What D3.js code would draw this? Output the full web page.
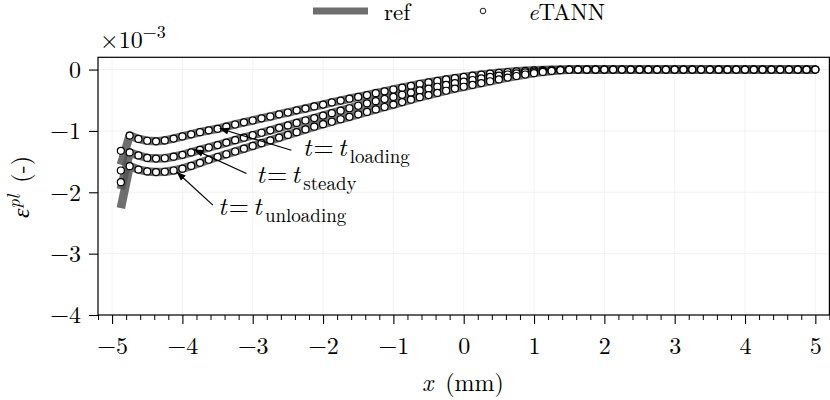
<!DOCTYPE html>
<html><head><meta charset="utf-8">
<script src="https://cdn.jsdelivr.net/npm/d3@7"></script>
<style>
body{margin:0;background:#fff}
svg{display:block}
text{font-family:"Latin Modern Roman","CMU Serif","Liberation Serif","Times New Roman",serif;fill:#000}
</style>
</head><body>
<svg id="c" width="830" height="400"></svg>
<script>
// ---- data (values in units of 1e-3) ----
const xs = [-4.875,-4.75,-4.625,-4.5,-4.375,-4.25,-4.125,-4,-3.875,-3.75,-3.625,-3.5,-3.375,-3.25,-3.125,-3,-2.875,-2.75,-2.625,-2.5,-2.375,-2.25,-2.125,-2,-1.875,-1.75,-1.625,-1.5,-1.375,-1.25,-1.125,-1,-0.875,-0.75,-0.625,-0.5,-0.375,-0.25,-0.125,0,0.125,0.25,0.375,0.5,0.625,0.75,0.875,1,1.125,1.25,1.375,1.5,1.625,1.75,1.875,2,2.125,2.25,2.375,2.5,2.625,2.75,2.875,3,3.125,3.25,3.375,3.5,3.625,3.75,3.875,4,4.125,4.25,4.375,4.5,4.625,4.75,4.875,5];

const etannLoading = [-1.325,-1.075,-1.13,-1.16,-1.17,-1.155,-1.125,-1.09,-1.055,-1.02,-0.99,-0.965,-0.93,-0.895,-0.86,-0.83,-0.795,-0.765,-0.73,-0.70,-0.665,-0.635,-0.60,-0.57,-0.535,-0.505,-0.475,-0.445,-0.415,-0.385,-0.355,-0.325,-0.295,-0.265,-0.235,-0.21,-0.185,-0.16,-0.14,-0.12,-0.10,-0.083,-0.067,-0.053,-0.04,-0.029,-0.02,-0.013,-0.007,-0.003,-0.001,0,0,0,0,0,0,0,0,0,0,0,0,0,0,0,0,0,0,0,0,0,0,0,0,0,0,0,0,0];
const etannSteady = [-1.645,-1.35,-1.40,-1.44,-1.45,-1.445,-1.42,-1.39,-1.35,-1.31,-1.27,-1.23,-1.19,-1.15,-1.11,-1.07,-1.03,-0.99,-0.95,-0.91,-0.87,-0.83,-0.79,-0.75,-0.71,-0.67,-0.63,-0.59,-0.55,-0.515,-0.48,-0.445,-0.41,-0.375,-0.34,-0.31,-0.28,-0.25,-0.22,-0.195,-0.17,-0.145,-0.12,-0.10,-0.08,-0.062,-0.046,-0.032,-0.02,-0.011,-0.005,-0.001,0,0,0,0,0,0,0,0,0,0,0,0,0,0,0,0,0,0,0,0,0,0,0,0,0,0,0,0];
const etannUnloading = [-1.835,-1.575,-1.63,-1.66,-1.67,-1.665,-1.645,-1.615,-1.57,-1.52,-1.47,-1.425,-1.38,-1.335,-1.29,-1.245,-1.20,-1.155,-1.11,-1.065,-1.02,-0.975,-0.93,-0.89,-0.85,-0.81,-0.77,-0.73,-0.69,-0.65,-0.61,-0.57,-0.53,-0.49,-0.45,-0.415,-0.38,-0.345,-0.31,-0.28,-0.25,-0.22,-0.19,-0.16,-0.13,-0.105,-0.08,-0.058,-0.038,-0.022,-0.01,-0.003,0,0,0,0,0,0,0,0,0,0,0,0,0,0,0,0,0,0,0,0,0,0,0,0,0,0,0,0];

const refLoading = [-1.55,-1.075,-1.13,-1.16,-1.17,-1.155,-1.125,-1.09,-1.055,-1.02,-0.99,-0.965,-0.93,-0.895,-0.86,-0.83,-0.795,-0.765,-0.73,-0.70,-0.665,-0.635,-0.60,-0.57,-0.535,-0.505,-0.475,-0.445,-0.415,-0.385,-0.355,-0.325,-0.295,-0.265,-0.235,-0.21,-0.185,-0.16,-0.14,-0.12,-0.10,-0.083,-0.067,-0.053,-0.04,-0.029,-0.02,-0.013,-0.007,-0.003,-0.001,0,0,0,0,0,0,0,0,0,0,0,0,0,0,0,0,0,0,0,0,0,0,0,0,0,0,0,0,0];
const refSteady = [-1.95,-1.35,-1.40,-1.44,-1.45,-1.445,-1.42,-1.39,-1.35,-1.31,-1.27,-1.23,-1.19,-1.15,-1.11,-1.07,-1.03,-0.99,-0.95,-0.91,-0.87,-0.83,-0.79,-0.75,-0.71,-0.67,-0.63,-0.59,-0.55,-0.515,-0.48,-0.445,-0.41,-0.375,-0.34,-0.31,-0.28,-0.25,-0.22,-0.195,-0.17,-0.145,-0.12,-0.10,-0.08,-0.062,-0.046,-0.032,-0.02,-0.011,-0.005,-0.001,0,0,0,0,0,0,0,0,0,0,0,0,0,0,0,0,0,0,0,0,0,0,0,0,0,0,0,0];
const refUnloading = [-2.26,-1.575,-1.63,-1.66,-1.67,-1.665,-1.645,-1.615,-1.57,-1.52,-1.47,-1.425,-1.38,-1.335,-1.29,-1.245,-1.20,-1.155,-1.11,-1.065,-1.02,-0.975,-0.93,-0.89,-0.85,-0.81,-0.77,-0.73,-0.69,-0.65,-0.61,-0.57,-0.53,-0.49,-0.45,-0.415,-0.38,-0.345,-0.31,-0.28,-0.25,-0.22,-0.19,-0.16,-0.13,-0.105,-0.08,-0.058,-0.038,-0.022,-0.01,-0.003,0,0,0,0,0,0,0,0,0,0,0,0,0,0,0,0,0,0,0,0,0,0,0,0,0,0,0,0];

const xTicks = [-5,-4,-3,-2,-1,0,1,2,3,4,5];
const yTicks = [-4,-3,-2,-1,0];
const xLabel = "(mm)";
const legendLabels = ["ref", "TANN"];
const stateNames = ["loading", "steady", "unloading"];
// annotation anchors in data coordinates: [text x, text baseline y], arrow tail, arrow tip
const annotText = [[-2.29,-1.413],[-2.95,-1.848],[-3.495,-2.363]];
const annotTail = [[-2.45,-1.315],[-3.09,-1.695],[-3.566,-2.21]];
const annotTip  = [[-3.47,-0.96],[-3.83,-1.304],[-4.08,-1.67]];

// ---- chart ----
const svg = d3.select("#c");
const x = d3.scaleLinear().domain([-5.2, 5.2]).range([98, 829.4]);
const y = d3.scaleLinear().domain([-4, 0.2]).range([315, 57.3]);
const fmt = d => d < 0 ? "\u2212" + Math.abs(d) : String(d);

// grid
const grid = svg.append("g");
grid.selectAll("line.gx").data(xTicks).join("line")
  .attr("x1", d => x(d)).attr("x2", d => x(d)).attr("y1", y(0.2)).attr("y2", y(-4))
  .attr("stroke", "#efefef").attr("stroke-width", 0.8);
grid.selectAll("line.gy").data(yTicks).join("line")
  .attr("y1", d => y(d)).attr("y2", d => y(d)).attr("x1", x(-5.2)).attr("x2", x(5.2))
  .attr("stroke", "#efefef").attr("stroke-width", 0.8);

// ref lines
const line = d3.line().x((d, i) => x(xs[i])).y(d => y(d));
const refs = [refLoading, refSteady, refUnloading];
svg.append("g").selectAll("path").data(refs).join("path")
  .attr("d", d => line(d))
  .attr("fill", "none").attr("stroke", "#555").attr("stroke-opacity", 0.85)
  .attr("stroke-width", 8.5).attr("stroke-linejoin", "round");

// eTANN markers
const ets = [etannLoading, etannSteady, etannUnloading];
const mg = svg.append("g");
ets.forEach(s => {
  mg.append("g").selectAll("circle").data(s).join("circle")
    .attr("cx", (d, i) => x(xs[i])).attr("cy", d => y(d)).attr("r", 3.5)
    .attr("fill", "#fff").attr("stroke", "#000").attr("stroke-width", 1.2);
});

// frame
svg.append("rect").attr("x", x(-5.2)).attr("y", y(0.2))
  .attr("width", x(5.2) - x(-5.2)).attr("height", y(-4) - y(0.2))
  .attr("fill", "none").attr("stroke", "#000").attr("stroke-width", 1.2);

// axes
const gx = svg.append("g").attr("transform", `translate(0,${y(-4)})`)
  .call(d3.axisBottom(x).tickValues(xTicks).tickSize(9).tickFormat(fmt));
gx.select(".domain").remove();
gx.selectAll("line").attr("stroke-width", 1.1);
gx.selectAll("text").attr("y", 39).attr("dy", 0).style("font-size", "24px");
const minor = d3.range(-26, 27).map(i => i / 5).filter(v => Math.abs(v - Math.round(v)) > 1e-6);
const gxm = svg.append("g").attr("transform", `translate(0,${y(-4)})`)
  .call(d3.axisBottom(x).tickValues(minor).tickSize(5).tickFormat(""));
gxm.select(".domain").remove();
gxm.selectAll("line").attr("stroke-width", 1);

const gy = svg.append("g").attr("transform", `translate(${x(-5.2)},0)`)
  .call(d3.axisLeft(y).tickValues(yTicks).tickSize(9).tickPadding(8).tickFormat(fmt));
gy.select(".domain").remove();
gy.selectAll("line").attr("stroke-width", 1.1);
gy.selectAll("text").attr("dy", "0.33em").style("font-size", "24px");
svg.selectAll(".tick text").attr("font-family", null).attr("font-size", null);

// axis labels
const xl = svg.append("text").attr("x", 463).attr("y", 391).attr("text-anchor", "middle")
  .style("font-size", "24px");
xl.append("tspan").attr("font-style", "italic").text("x");
xl.append("tspan").text("\u2002" + xLabel);

const yl = svg.append("text").attr("transform", "translate(29,187) rotate(-90)")
  .attr("text-anchor", "middle").style("font-size", "24px");
yl.append("tspan").attr("font-style", "italic").text("\u03B5");
yl.append("tspan").attr("font-style", "italic").attr("dy", -9).style("font-size", "18px").text("pl");
yl.append("tspan").attr("dy", 9).text("\u2002(-)");

// offset text
const ot = svg.append("text").attr("x", 100).attr("y", 48).style("font-size", "24px");
ot.append("tspan").text("\u00D710");
ot.append("tspan").attr("dy", -10).style("font-size", "18px").text("\u22123");

// legend
svg.append("line").attr("x1", 313).attr("x2", 368).attr("y1", 11).attr("y2", 11)
  .attr("stroke", "#555").attr("stroke-opacity", 0.85).attr("stroke-width", 7);
svg.append("text").attr("x", 384).attr("y", 20).style("font-size", "23px").text(legendLabels[0]);
svg.append("circle").attr("cx", 483).attr("cy", 11).attr("r", 2.8)
  .attr("fill", "#fff").attr("stroke", "#000").attr("stroke-width", 0.9);
const le = svg.append("text").attr("x", 528).attr("y", 20).style("font-size", "23px");
le.append("tspan").attr("font-style", "italic").text("e");
le.append("tspan").text(legendLabels[1]);

// annotations
svg.append("defs").append("marker").attr("id", "ah")
  .attr("viewBox", "0 0 10 10").attr("refX", 10).attr("refY", 5)
  .attr("markerWidth", 9).attr("markerHeight", 9).attr("markerUnits", "userSpaceOnUse")
  .attr("orient", "auto")
  .append("path").attr("d", "M0,1 L10,5 L0,9 Z").attr("fill", "#000");

stateNames.forEach((nm, k) => {
  svg.append("line")
    .attr("x1", x(annotTail[k][0])).attr("y1", y(annotTail[k][1]))
    .attr("x2", x(annotTip[k][0])).attr("y2", y(annotTip[k][1]))
    .attr("stroke", "#000").attr("stroke-width", 1.2).attr("marker-end", "url(#ah)");
  const tx = x(annotText[k][0]), ty = y(annotText[k][1]);
  const g = svg.append("g").style("font-size", "26px");
  g.append("text").attr("x", tx).attr("y", ty).attr("font-style", "italic").text("t");
  g.append("text").attr("x", tx + 21).attr("y", ty).attr("text-anchor", "middle").text("=");
  g.append("text").attr("x", tx + 35).attr("y", ty).attr("font-style", "italic").text("t");
  g.append("text").attr("x", tx + 47).attr("y", ty + 7).style("font-size", "19px").text(nm);
});
</script>
</body></html>
